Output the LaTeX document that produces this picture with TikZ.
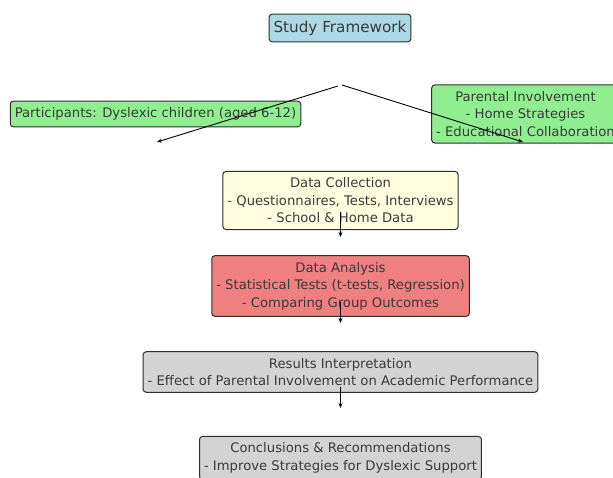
\documentclass[tikz,border=0pt]{standalone}
\usepackage{fontspec}
\setmainfont{DejaVu Sans}
\usetikzlibrary{arrows.meta}
\definecolor{boxline}{HTML}{2E2E2E}
\definecolor{txt}{HTML}{3A3A3A}
\definecolor{lblue}{HTML}{ADD8E6}
\definecolor{lgreen}{HTML}{90EE90}
\definecolor{lyellow}{HTML}{FFFFE0}
\definecolor{lcoral}{HTML}{F08080}
\definecolor{lgray}{HTML}{D3D3D3}
\begin{document}
\begin{tikzpicture}[x=1pt,y=-1pt,
  stagebox/.style={draw=boxline,line width=1pt,fill=#1,rounded corners=3pt,
    align=center,text=txt,inner xsep=4.5pt,inner ysep=6.4pt,
    font=\fontsize{13.2}{17.5}\selectfont},
  link/.style={line width=0.9pt,-{Stealth[length=5pt,width=4pt]}}]
\useasboundingbox (0,0) rectangle (613,478);
\clip (0,0) rectangle (613,478);
\node[stagebox=lblue,font=\fontsize{15.2}{18}\selectfont] (frame) at (340,28) {Study Framework};
\node[stagebox=lgreen] (kids) at (155.5,114) {Participants: Dyslexic children (aged 6-12)};
\node[stagebox=lgreen] (parents) at (525.5,114) {Parental Involvement\\- Home Strategies\\- Educational Collaboration};
\node[stagebox=lyellow] (collect) at (340.5,200.5) {Data Collection\\- Questionnaires, Tests, Interviews\\- School \& Home Data};
\node[stagebox=lcoral] (analysis) at (340.5,286) {Data Analysis\\- Statistical Tests (t-tests, Regression)\\- Comparing Group Outcomes};
\node[stagebox=lgray] (results) at (340.5,372) {Results Interpretation\\- Effect of Parental Involvement on Academic Performance};
\node[stagebox=lgray] (concl) at (340.5,458) {Conclusions \& Recommendations\\- Improve Strategies for Dyslexic Support};
% arrow ends
\coordinate (splitL) at (338,86);
\coordinate (splitR) at (342,85);
\coordinate (toKids) at (157,142);
\coordinate (toParents) at (523,142);
\coordinate (c1) at (340.5,212);
\coordinate (c2) at (340.5,237);
\coordinate (a1) at (340.5,302);
\coordinate (a2) at (340.5,323);
\coordinate (r1) at (340.5,387);
\coordinate (r2) at (340.5,408);
\draw[link] (splitL) -- (toKids);
\draw[link] (splitR) -- (toParents);
\draw[link] (c1) -- (c2);
\draw[link] (a1) -- (a2);
\draw[link] (r1) -- (r2);
\end{tikzpicture}
\end{document}
